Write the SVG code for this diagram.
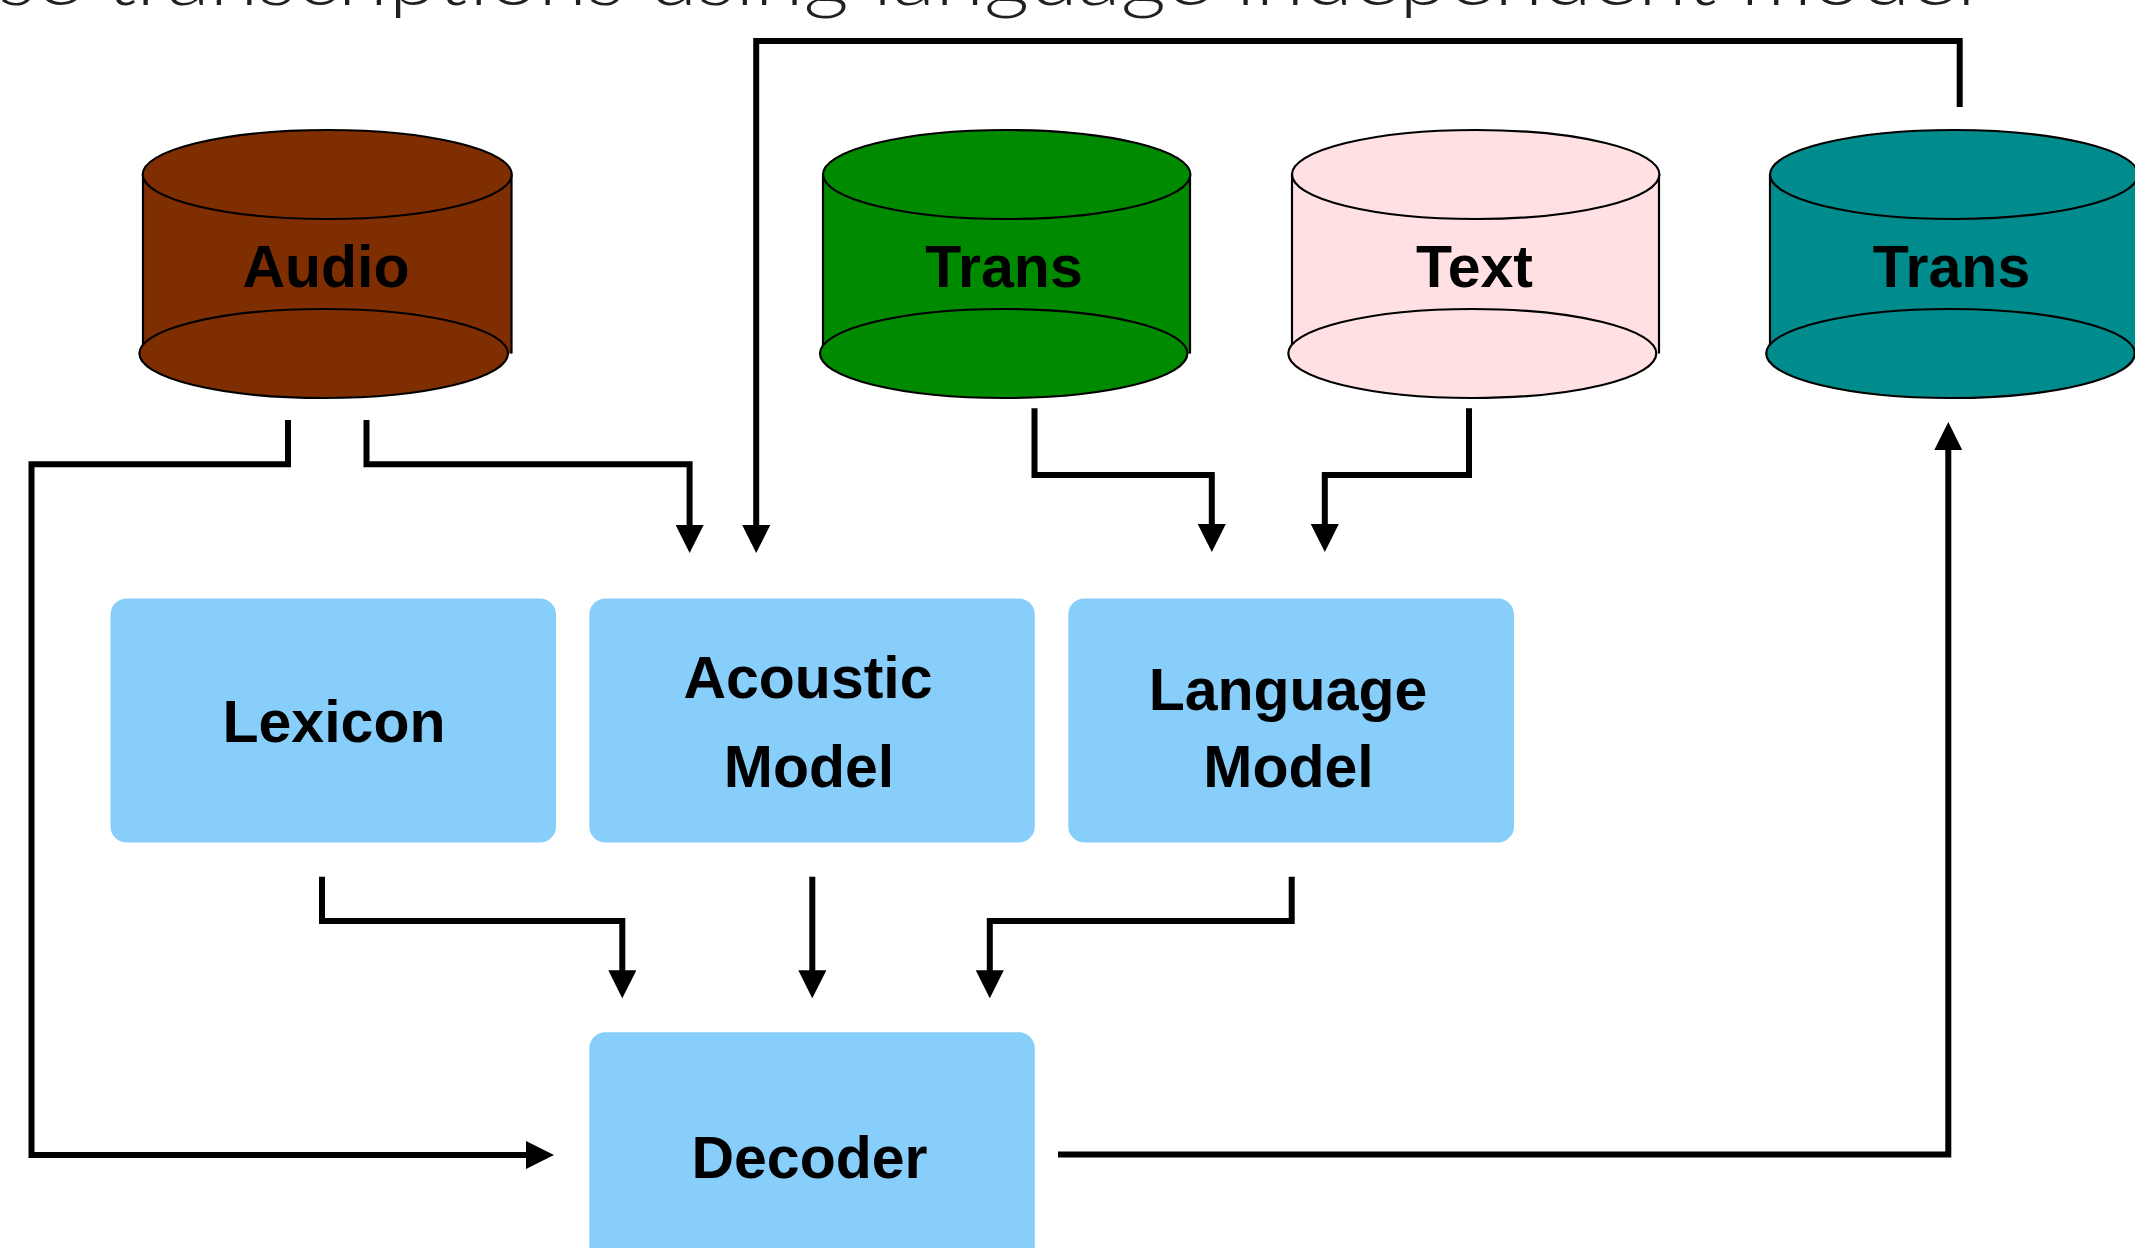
<svg xmlns="http://www.w3.org/2000/svg" width="2135" height="1248" viewBox="0 0 2135 1248">
<style>
.title{font-family:Lato,"Open Sans",sans-serif;font-weight:300;font-size:74px;fill:#231f20}
.lbl{font-family:"Liberation Sans",Arial,sans-serif;font-weight:bold;font-size:59px;fill:#000;text-anchor:middle}
.cyl{stroke:#000;stroke-width:2.2}
.box{fill:#87cefa}
.conn{fill:none;stroke:#000;stroke-width:6;stroke-linejoin:miter;stroke-linecap:butt}
</style>
<defs>
<marker id="arr" markerUnits="userSpaceOnUse" markerWidth="28" markerHeight="28" refX="18" refY="14" orient="auto">
<path d="M0,0 L28,14 L0,28 Z" fill="#000"/>
</marker>
</defs>
<rect width="2135" height="1248" fill="#fff"/>
<text class="title" x="-2" y="5" textLength="1978" lengthAdjust="spacingAndGlyphs">se transcriptions using language independent model</text>

<g id="audio">
<rect x="143" y="174.5" width="369" height="179" fill="#7e2e00"/>
<line class="cyl" x1="143" y1="174.5" x2="143" y2="350"/>
<line class="cyl" x1="511.5" y1="174.5" x2="511.5" y2="353.5"/>
<ellipse class="cyl" cx="323.7" cy="353.5" rx="184.3" ry="44.5" fill="#7e2e00"/>
<ellipse class="cyl" cx="327.2" cy="174.5" rx="184.5" ry="44.5" fill="#7e2e00"/>
<text class="lbl" x="326" y="287">Audio</text>
</g>

<g id="trans1">
<rect x="823" y="174.5" width="367.5" height="179" fill="#008a00"/>
<line class="cyl" x1="823" y1="174.5" x2="823" y2="350"/>
<line class="cyl" x1="1190" y1="174.5" x2="1190" y2="353.5"/>
<ellipse class="cyl" cx="1003.7" cy="353.5" rx="183.7" ry="44.5" fill="#008a00"/>
<ellipse class="cyl" cx="1006.7" cy="174.5" rx="183.7" ry="44.5" fill="#008a00"/>
<text class="lbl" x="1004" y="287">Trans</text>
</g>

<g id="text">
<rect x="1292" y="174.5" width="367.5" height="179" fill="#ffe0e3"/>
<line class="cyl" x1="1292" y1="174.5" x2="1292" y2="350"/>
<line class="cyl" x1="1659" y1="174.5" x2="1659" y2="353.5"/>
<ellipse class="cyl" cx="1472.3" cy="353.5" rx="184" ry="44.5" fill="#ffe0e3"/>
<ellipse class="cyl" cx="1475.7" cy="174.5" rx="183.7" ry="44.5" fill="#ffe0e3"/>
<text class="lbl" x="1474.5" y="287">Text</text>
</g>

<g id="trans2">
<rect x="1770" y="174.5" width="368" height="179" fill="#008c8c"/>
<line class="cyl" x1="1770" y1="174.5" x2="1770" y2="350"/>
<line class="cyl" x1="2138" y1="174.5" x2="2138" y2="353.5"/>
<ellipse class="cyl" cx="1950.5" cy="353.5" rx="184.3" ry="44.5" fill="#008c8c"/>
<ellipse class="cyl" cx="1954" cy="174.5" rx="184" ry="44.5" fill="#008c8c"/>
<text class="lbl" x="1951.5" y="287">Trans</text>
</g>

<g id="lexicon">
<rect class="box" x="110.5" y="598.5" width="445.5" height="244" rx="16"/>
<text class="lbl" x="334" y="742">Lexicon</text>
</g>

<g id="acoustic">
<rect class="box" x="589.3" y="598.5" width="445.5" height="244" rx="16"/>
<text class="lbl" x="808" y="697.5">Acoustic</text>
<text class="lbl" x="809" y="786.5">Model</text>
</g>

<g id="language">
<rect class="box" x="1068.3" y="598.5" width="445.7" height="244" rx="16"/>
<text class="lbl" x="1288" y="710">Language</text>
<text class="lbl" x="1288.5" y="787.3">Model</text>
</g>

<g id="decoder">
<rect class="box" x="589.3" y="1032.3" width="445.5" height="260" rx="16"/>
<text class="lbl" x="809.5" y="1177.7">Decoder</text>
</g>

<g id="connectors">
<path class="conn" marker-end="url(#arr)" d="M288,420 V464.3 H31.5 V1155 H544"/>
<path class="conn" marker-end="url(#arr)" d="M366.5,420 V464.3 H689.6 V543"/>
<path class="conn" marker-end="url(#arr)" d="M1959.7,107 V41 H756.2 V543"/>
<path class="conn" marker-end="url(#arr)" d="M1034.5,408.3 V475 H1211.8 V542"/>
<path class="conn" marker-end="url(#arr)" d="M1469,408.3 V475 H1324.8 V542"/>
<path class="conn" marker-end="url(#arr)" d="M322,876.7 V921 H622.3 V988.3"/>
<path class="conn" marker-end="url(#arr)" d="M812.3,876.7 V988.3"/>
<path class="conn" marker-end="url(#arr)" d="M1291.7,876.7 V921 H989.8 V988.3"/>
<path class="conn" marker-end="url(#arr)" d="M1058,1154.5 H1948.3 V432"/>
</g>
</svg>
